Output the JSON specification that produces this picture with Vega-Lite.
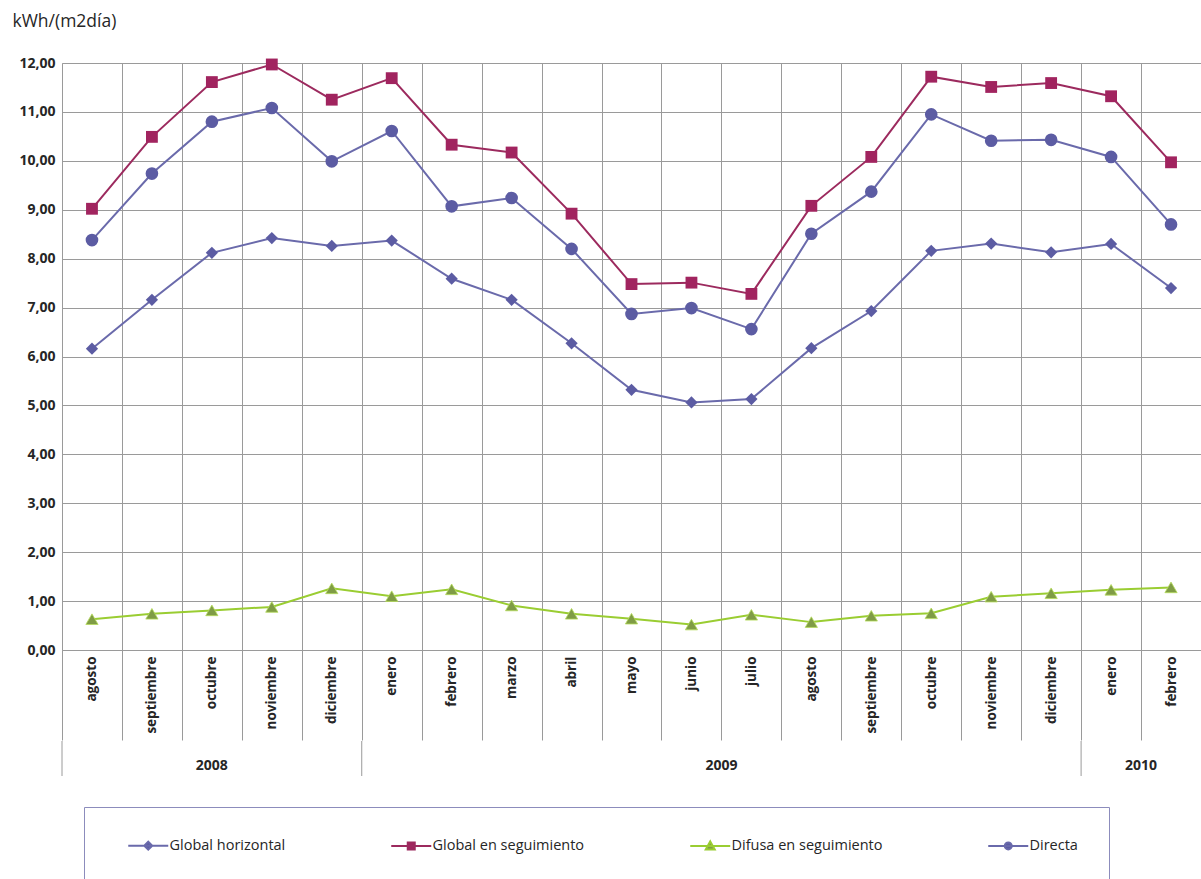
{
  "$schema": "https://vega.github.io/schema/vega-lite/v6.json",
  "background": "white",
  "padding": {"left": 12, "top": 12, "right": 0, "bottom": 0},
  "bounds": "flush",
  "spacing": 91,
  "config": {
    "view": {"stroke": null},
    "font": "Open Sans",
    "axis": {"labelFont": "Open Sans", "titleFont": "Open Sans"},
    "axisQuantitative": {"domain": false}
  },
  "vconcat": [
    {
      "width": 1139,
      "height": 587,
      "data": {
        "values": [
          {"mes": "agosto 2008", "serie": "Global horizontal", "valor": 6.16},
          {"mes": "agosto 2008", "serie": "Global en seguimiento", "valor": 9.02},
          {"mes": "agosto 2008", "serie": "Difusa en seguimiento", "valor": 0.63},
          {"mes": "agosto 2008", "serie": "Directa", "valor": 8.38},
          {"mes": "septiembre 2008", "serie": "Global horizontal", "valor": 7.16},
          {"mes": "septiembre 2008", "serie": "Global en seguimiento", "valor": 10.49},
          {"mes": "septiembre 2008", "serie": "Difusa en seguimiento", "valor": 0.74},
          {"mes": "septiembre 2008", "serie": "Directa", "valor": 9.74},
          {"mes": "octubre 2008", "serie": "Global horizontal", "valor": 8.12},
          {"mes": "octubre 2008", "serie": "Global en seguimiento", "valor": 11.61},
          {"mes": "octubre 2008", "serie": "Difusa en seguimiento", "valor": 0.81},
          {"mes": "octubre 2008", "serie": "Directa", "valor": 10.8},
          {"mes": "noviembre 2008", "serie": "Global horizontal", "valor": 8.42},
          {"mes": "noviembre 2008", "serie": "Global en seguimiento", "valor": 11.97},
          {"mes": "noviembre 2008", "serie": "Difusa en seguimiento", "valor": 0.88},
          {"mes": "noviembre 2008", "serie": "Directa", "valor": 11.08},
          {"mes": "diciembre 2008", "serie": "Global horizontal", "valor": 8.26},
          {"mes": "diciembre 2008", "serie": "Global en seguimiento", "valor": 11.25},
          {"mes": "diciembre 2008", "serie": "Difusa en seguimiento", "valor": 1.26},
          {"mes": "diciembre 2008", "serie": "Directa", "valor": 9.99},
          {"mes": "enero 2009", "serie": "Global horizontal", "valor": 8.37},
          {"mes": "enero 2009", "serie": "Global en seguimiento", "valor": 11.69},
          {"mes": "enero 2009", "serie": "Difusa en seguimiento", "valor": 1.1},
          {"mes": "enero 2009", "serie": "Directa", "valor": 10.61},
          {"mes": "febrero 2009", "serie": "Global horizontal", "valor": 7.59},
          {"mes": "febrero 2009", "serie": "Global en seguimiento", "valor": 10.33},
          {"mes": "febrero 2009", "serie": "Difusa en seguimiento", "valor": 1.24},
          {"mes": "febrero 2009", "serie": "Directa", "valor": 9.07},
          {"mes": "marzo 2009", "serie": "Global horizontal", "valor": 7.16},
          {"mes": "marzo 2009", "serie": "Global en seguimiento", "valor": 10.17},
          {"mes": "marzo 2009", "serie": "Difusa en seguimiento", "valor": 0.91},
          {"mes": "marzo 2009", "serie": "Directa", "valor": 9.24},
          {"mes": "abril 2009", "serie": "Global horizontal", "valor": 6.27},
          {"mes": "abril 2009", "serie": "Global en seguimiento", "valor": 8.92},
          {"mes": "abril 2009", "serie": "Difusa en seguimiento", "valor": 0.74},
          {"mes": "abril 2009", "serie": "Directa", "valor": 8.2},
          {"mes": "mayo 2009", "serie": "Global horizontal", "valor": 5.32},
          {"mes": "mayo 2009", "serie": "Global en seguimiento", "valor": 7.48},
          {"mes": "mayo 2009", "serie": "Difusa en seguimiento", "valor": 0.64},
          {"mes": "mayo 2009", "serie": "Directa", "valor": 6.87},
          {"mes": "junio 2009", "serie": "Global horizontal", "valor": 5.06},
          {"mes": "junio 2009", "serie": "Global en seguimiento", "valor": 7.51},
          {"mes": "junio 2009", "serie": "Difusa en seguimiento", "valor": 0.52},
          {"mes": "junio 2009", "serie": "Directa", "valor": 6.99},
          {"mes": "julio 2009", "serie": "Global horizontal", "valor": 5.13},
          {"mes": "julio 2009", "serie": "Global en seguimiento", "valor": 7.28},
          {"mes": "julio 2009", "serie": "Difusa en seguimiento", "valor": 0.72},
          {"mes": "julio 2009", "serie": "Directa", "valor": 6.56},
          {"mes": "agosto 2009", "serie": "Global horizontal", "valor": 6.17},
          {"mes": "agosto 2009", "serie": "Global en seguimiento", "valor": 9.08},
          {"mes": "agosto 2009", "serie": "Difusa en seguimiento", "valor": 0.57},
          {"mes": "agosto 2009", "serie": "Directa", "valor": 8.51},
          {"mes": "septiembre 2009", "serie": "Global horizontal", "valor": 6.93},
          {"mes": "septiembre 2009", "serie": "Global en seguimiento", "valor": 10.08},
          {"mes": "septiembre 2009", "serie": "Difusa en seguimiento", "valor": 0.7},
          {"mes": "septiembre 2009", "serie": "Directa", "valor": 9.37},
          {"mes": "octubre 2009", "serie": "Global horizontal", "valor": 8.16},
          {"mes": "octubre 2009", "serie": "Global en seguimiento", "valor": 11.72},
          {"mes": "octubre 2009", "serie": "Difusa en seguimiento", "valor": 0.75},
          {"mes": "octubre 2009", "serie": "Directa", "valor": 10.95},
          {"mes": "noviembre 2009", "serie": "Global horizontal", "valor": 8.31},
          {"mes": "noviembre 2009", "serie": "Global en seguimiento", "valor": 11.51},
          {"mes": "noviembre 2009", "serie": "Difusa en seguimiento", "valor": 1.09},
          {"mes": "noviembre 2009", "serie": "Directa", "valor": 10.41},
          {"mes": "diciembre 2009", "serie": "Global horizontal", "valor": 8.13},
          {"mes": "diciembre 2009", "serie": "Global en seguimiento", "valor": 11.59},
          {"mes": "diciembre 2009", "serie": "Difusa en seguimiento", "valor": 1.16},
          {"mes": "diciembre 2009", "serie": "Directa", "valor": 10.43},
          {"mes": "enero 2010", "serie": "Global horizontal", "valor": 8.3},
          {"mes": "enero 2010", "serie": "Global en seguimiento", "valor": 11.32},
          {"mes": "enero 2010", "serie": "Difusa en seguimiento", "valor": 1.23},
          {"mes": "enero 2010", "serie": "Directa", "valor": 10.08},
          {"mes": "febrero 2010", "serie": "Global horizontal", "valor": 7.4},
          {"mes": "febrero 2010", "serie": "Global en seguimiento", "valor": 9.97},
          {"mes": "febrero 2010", "serie": "Difusa en seguimiento", "valor": 1.28},
          {"mes": "febrero 2010", "serie": "Directa", "valor": 8.7}
        ]
      },
      "encoding": {
        "x": {
          "field": "mes",
          "type": "ordinal",
          "bandPosition": 0.5,
          "sort": ["agosto 2008", "septiembre 2008", "octubre 2008", "noviembre 2008", "diciembre 2008", "enero 2009", "febrero 2009", "marzo 2009", "abril 2009", "mayo 2009", "junio 2009", "julio 2009", "agosto 2009", "septiembre 2009", "octubre 2009", "noviembre 2009", "diciembre 2009", "enero 2010", "febrero 2010"],
          "scale": {"type": "band", "paddingInner": 0, "paddingOuter": 0},
          "axis": {
            "title": null,
            "labelExpr": "datum.value ? split(datum.value, ' ')[0] : ''",
            "labelAngle": 270,
            "labelAlign": "right",
            "labelBaseline": "middle",
            "labelPadding": -84,
            "labelFontSize": 13.5,
            "labelFontWeight": "bold",
            "labelColor": "#262626",
            "tickBand": "extent",
            "tickSize": 90,
            "tickColor": "#9a9a9a",
            "tickWidth": 1,
            "grid": true,
            "gridColor": "#9a9a9a",
            "gridWidth": 1,
            "domain": true,
            "domainColor": "#9a9a9a"
          }
        },
        "y": {
          "field": "valor",
          "type": "quantitative",
          "scale": {"domain": [0, 12], "nice": false},
          "axis": {
            "title": "kWh/(m2día)",
            "titleAngle": 0,
            "titleAlign": "left",
            "titleBaseline": "middle",
            "titleX": -50,
            "titleY": -42,
            "titleFontSize": 17.5,
            "titleFontWeight": "normal",
            "titleColor": "#262626",
            "values": [0, 1, 2, 3, 4, 5, 6, 7, 8, 9, 10, 11, 12],
            "labelExpr": "replace(format(datum.value, '.2f'), '.', ',')",
            "labelFontSize": 14,
            "labelFontWeight": "bold",
            "labelColor": "#262626",
            "labelPadding": 7,
            "ticks": false,
            "grid": true,
            "gridColor": "#9a9a9a",
            "gridWidth": 1,
            "domain": true,
            "domainColor": "#9a9a9a"
          }
        }
      },
      "layer": [
        {
          "transform": [{"filter": {"field": "serie", "equal": "Global horizontal"}}],
          "layer": [
            {"mark": {"type": "line", "strokeWidth": 2, "color": "#6a6aab"}},
            {"mark": {"type": "point", "shape": "diamond", "filled": true, "opacity": 1, "size": 150, "fill": "#5c5ca3", "strokeWidth": 0}}
          ]
        },
        {
          "transform": [{"filter": {"field": "serie", "equal": "Global en seguimiento"}}],
          "layer": [
            {"mark": {"type": "line", "strokeWidth": 2, "color": "#9c2a5e"}},
            {"mark": {"type": "point", "shape": "square", "filled": true, "opacity": 1, "size": 140, "fill": "#a1245f", "strokeWidth": 0}}
          ]
        },
        {
          "transform": [{"filter": {"field": "serie", "equal": "Difusa en seguimiento"}}],
          "layer": [
            {"mark": {"type": "line", "strokeWidth": 2, "color": "#9acd32"}},
            {"mark": {"type": "point", "shape": "triangle-up", "filled": true, "opacity": 1, "size": 150, "fill": "#7f9c45", "stroke": "#b5dc5a", "strokeWidth": 0.8}}
          ]
        },
        {
          "transform": [{"filter": {"field": "serie", "equal": "Directa"}}],
          "layer": [
            {"mark": {"type": "line", "strokeWidth": 2, "color": "#6a6aab"}},
            {"mark": {"type": "point", "shape": "circle", "filled": true, "opacity": 1, "size": 160, "fill": "#5c5ca3", "strokeWidth": 0}}
          ]
        },
        {
          "mark": {"type": "point", "filled": false, "opacity": 0, "strokeWidth": 2},
          "encoding": {
            "color": {
              "field": "serie",
              "type": "nominal",
              "scale": {
                "domain": ["Global horizontal", "Global en seguimiento", "Difusa en seguimiento", "Directa"],
                "range": ["#6a6aab", "#9c2a5e", "#9acd32", "#6a6aab"]
              },
              "legend": {
                "title": null,
                "orient": "none",
                "legendX": 22,
                "legendY": 744,
                "direction": "horizontal",
                "columns": 4,
                "gridAlign": "each",
                "columnPadding": 92,
                "padding": 31,
                "strokeColor": "#8c8cbc",
                "fillColor": "white",
                "labelFont": "Open Sans",
                "labelFontSize": 14.5,
                "labelColor": "#262626",
                "labelOffset": 40,
                "symbolSize": 100,
                "symbolStrokeWidth": 2,
                "symbolOpacity": 1,
                "encoding": {
                  "symbols": {
                    "fill": {"value": {"expr": "datum.value === 'Global en seguimiento' ? '#a1245f' : datum.value === 'Difusa en seguimiento' ? '#7f9c45' : '#5c5ca3'"}}
                  }
                }
              }
            },
            "shape": {
              "field": "serie",
              "type": "nominal",
              "scale": {
                "domain": ["Global horizontal", "Global en seguimiento", "Difusa en seguimiento", "Directa"],
                "range": [
                  "M1.2,0H9.2M5.2,-0.8L6,0L5.2,0.8L4.4,0Z",
                  "M1.2,0H9.2M4.5,-0.7H5.9V0.7H4.5Z",
                  "M1.2,0H9.2M5.2,-0.9L6.1,0.7H4.3Z",
                  "M1.2,0H9.2M4.5,0A0.7,0.7,0,1,1,5.9,0A0.7,0.7,0,1,1,4.5,0Z"
                ]
              }
            }
          }
        }
      ]
    },
    {
      "width": 1139,
      "height": 35,
      "view": {"stroke": null, "fill": null},
      "data": {
        "values": [
          {"anio": "2008", "desde": 0, "centro": 2.5},
          {"anio": "2009", "desde": 5, "centro": 11},
          {"anio": "2010", "desde": 17, "centro": 18}
        ]
      },
      "encoding": {
        "x": {
          "field": "desde",
          "type": "quantitative",
          "scale": {"domain": [0, 19], "nice": false, "zero": false},
          "axis": null
        }
      },
      "layer": [
        {
          "mark": {"type": "rule", "color": "#9a9a9a", "strokeWidth": 1}
        },
        {
          "mark": {"type": "text", "font": "Open Sans", "fontSize": 14, "fontWeight": "bold", "color": "#262626", "dy": 7},
          "encoding": {
            "x": {"field": "centro", "type": "quantitative", "axis": null},
            "text": {"field": "anio"}
          }
        }
      ]
    }
  ]
}
